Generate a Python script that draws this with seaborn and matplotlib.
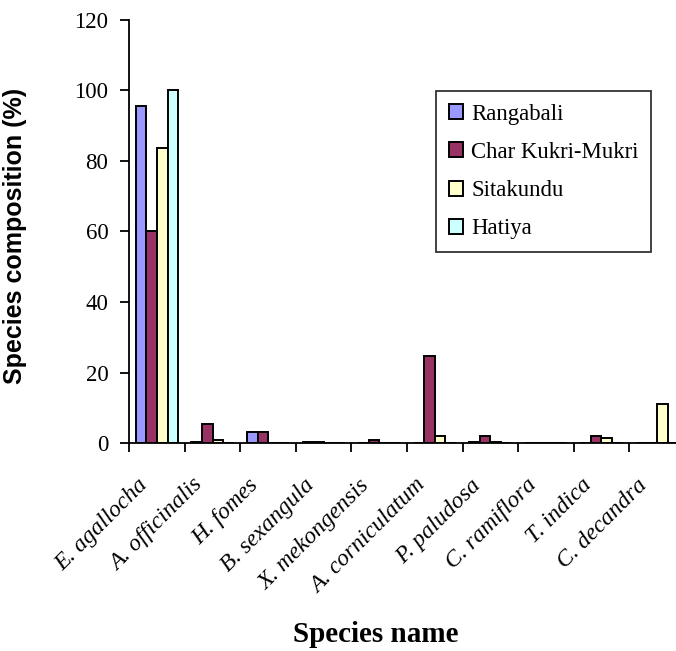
import matplotlib
matplotlib.use("Agg")
import matplotlib.pyplot as plt
import seaborn as sns
import pandas as pd

categories = ['E. agallocha', 'A. officinalis', 'H. fomes', 'B. sexangula',
              'X. mekongensis', 'A. corniculatum', 'P. paludosa', 'C. ramiflora',
              'T. indica', 'C. decandra']
sites = ['Rangabali', 'Char Kukri-Mukri', 'Sitakundu', 'Hatiya']
rangabali = [95.5, 0.3, 3.2, 0.5, 0.0, 0.0, 0.3, 0.0, 0.0, 0.0]
char_kukri = [60.0, 5.5, 3.2, 0.5, 1.0, 24.7, 2.1, 0.0, 2.1, 0.0]
sitakundu = [83.6, 1.0, 0.0, 0.0, 0.0, 2.1, 0.5, 0.0, 1.6, 11.1]
hatiya = [100.0, 0.0, 0.0, 0.0, 0.0, 0.0, 0.0, 0.0, 0.0, 0.0]
yticks = [0, 20, 40, 60, 80, 100, 120]

colors = ['#9999FF', '#993366', '#FFFFCC', '#CCFFFF']

rows = []
for site, vals in zip(sites, [rangabali, char_kukri, sitakundu, hatiya]):
    for c, v in zip(categories, vals):
        rows.append({'species': c, 'site': site, 'value': v})
df = pd.DataFrame(rows)

sns.set_style('white')
plt.rcParams['font.family'] = ['Liberation Serif', 'DejaVu Serif']
plt.rcParams['text.color'] = 'black'
plt.rcParams['axes.labelcolor'] = 'black'
plt.rcParams['xtick.color'] = 'black'
plt.rcParams['ytick.color'] = 'black'

W, H = 676, 651
fig = plt.figure(figsize=(W / 100, H / 100), dpi=100)
left, right, top, bottom = 129.2, 684.8, 19.5, 443.3
ax = fig.add_axes([left / W, 1 - bottom / H, (right - left) / W, (bottom - top) / H])

sns.barplot(data=df, x='species', y='value', hue='site', order=categories,
            hue_order=sites, palette=colors, saturation=1, width=0.76,
            edgecolor='black', linewidth=1.4, ax=ax)

ax.set_xlim(-0.5, 9.5)
ax.set_ylim(0, 120)
ax.set_yticks(yticks)
ax.set_yticklabels([str(t) for t in yticks], fontsize=16.5)

# label anchors sit slightly left of each category centre (as in the original)
ax.set_xticks([i - 0.23 for i in range(len(categories))])
ax.set_xticklabels(categories, fontsize=17, style='italic', rotation=45,
                   ha='right', va='center', rotation_mode='anchor')
ax.set_xticks([i - 0.5 for i in range(len(categories) + 1)], minor=True)
ax.tick_params(axis='x', which='major', bottom=True, length=0, pad=28)
ax.tick_params(axis='x', which='minor', bottom=True, length=6.5, width=1.3,
               direction='out', color='black')
ax.tick_params(axis='y', which='major', left=True, length=6.5, width=1.3,
               direction='out', color='black', pad=8.5)

for s in ['top', 'right']:
    ax.spines[s].set_visible(False)
for s in ['left', 'bottom']:
    ax.spines[s].set_color('black')
    ax.spines[s].set_linewidth(1.3)

ax.set_xlabel('')
ax.set_ylabel('Species composition (%)', fontsize=18, fontweight='bold',
              family=['Liberation Sans', 'DejaVu Sans'])
ax.yaxis.set_label_coords(-(left - 27) / (right - left), 0.49)

fig.text(375.5 / W, 1 - 635 / H, 'Species name', fontsize=21, fontweight='bold',
         ha='center', va='center')

handles, labels = ax.get_legend_handles_labels()
leg = ax.legend(handles, labels, loc='upper left',
                bbox_to_anchor=((436 - left) / (right - left), (bottom - 91) / (bottom - top)),
                borderaxespad=0, fontsize=16.4, frameon=True, fancybox=False,
                handlelength=0.64, handleheight=0.64, handletextpad=0.35,
                labelspacing=0.76, borderpad=0.55)
leg.get_frame().set_edgecolor('black')
leg.get_frame().set_linewidth(1.3)

fig.savefig('out.png', dpi=100)
